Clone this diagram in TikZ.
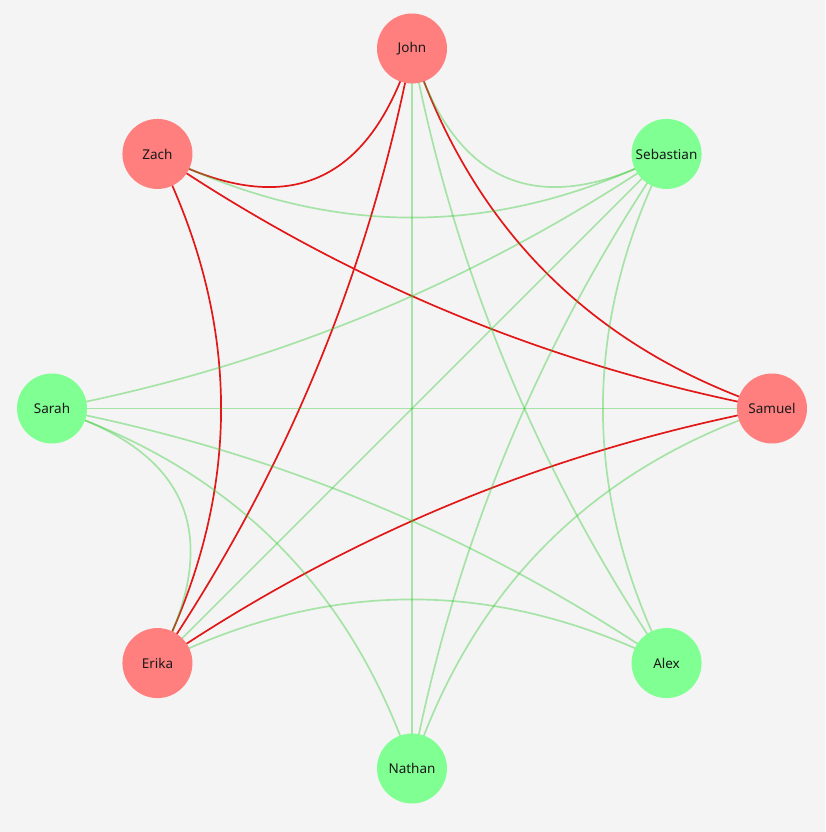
\documentclass[tikz,border=0pt]{standalone}
\usepackage{fontspec}
\setmainfont{Noto Sans}
\usetikzlibrary{calc}
\pgfdeclarelayer{bglayer}
\pgfdeclarelayer{edgelayer}
\pgfsetlayers{bglayer,edgelayer,main}
\definecolor{pagebg}{HTML}{F4F4F4}
\definecolor{rednode}{HTML}{FF7F7F}
\definecolor{greennode}{HTML}{80FF93}
\definecolor{rededge}{RGB}{226,24,24}
\definecolor{greenedge}{RGB}{40,200,40}
\tikzset{
  person/.style={circle, minimum size=70pt, inner sep=0pt, text=black!90,
    font=\fontsize{13.5}{16}\selectfont},
  redperson/.style={person, fill=rednode},
  greenperson/.style={person, fill=greennode},
  rlink/.style={draw=rededge, line width=1.7pt},
  glink/.style={draw=greenedge, draw opacity=0.38, line width=1.7pt},
}
\newcommand\qlink[3]{%
  \coordinate (qm) at ($(#2.center)!0.5!(#3.center)$);
  \coordinate (qc) at ($(qm)!0.5!(O)$);
  \draw[#1] (#2.center) .. controls ($(#2.center)!2/3!(qc)$) and ($(#3.center)!2/3!(qc)$) .. (#3.center);
}
\begin{document}
\begin{tikzpicture}[x=1pt,y=-1pt]
\begin{pgfonlayer}{bglayer}
  \fill[pagebg] (0,0) rectangle (825,832);
\end{pgfonlayer}
\useasboundingbox (0,0) rectangle (825,832);
\coordinate (O) at (412,408.5);
\node[redperson]   (John)      at ($(O)+(-90:360)$)  {John};
\node[greenperson] (Sebastian) at ($(O)+(-45:360)$)  {Sebastian};
\node[redperson]   (Samuel)    at ($(O)+(0:360)$)    {Samuel};
\node[greenperson] (Alex)      at ($(O)+(45:360)$)   {Alex};
\node[greenperson] (Nathan)    at ($(O)+(90:360)$)   {Nathan};
\node[redperson]   (Erika)     at ($(O)+(135:360)$)  {Erika};
\node[greenperson] (Sarah)     at ($(O)+(180:360)$)  {Sarah};
\node[redperson]   (Zach)      at ($(O)+(-135:360)$) {Zach};
\begin{pgfonlayer}{edgelayer}
  % red edges
  \qlink{rlink}{John}{Zach}
  \qlink{rlink}{John}{Samuel}
  \qlink{rlink}{John}{Erika}
  \qlink{rlink}{Zach}{Samuel}
  \qlink{rlink}{Zach}{Erika}
  \qlink{rlink}{Samuel}{Erika}
  % green edges
  \qlink{glink}{John}{Sebastian}
  \qlink{glink}{John}{Nathan}
  \qlink{glink}{John}{Alex}
  \qlink{glink}{Sebastian}{Zach}
  \qlink{glink}{Sebastian}{Sarah}
  \qlink{glink}{Sebastian}{Erika}
  \qlink{glink}{Sebastian}{Nathan}
  \qlink{glink}{Sebastian}{Alex}
  \qlink{glink}{Samuel}{Sarah}
  \qlink{glink}{Samuel}{Nathan}
  \qlink{glink}{Sarah}{Alex}
  \qlink{glink}{Sarah}{Nathan}
  \qlink{glink}{Sarah}{Erika}
  \qlink{glink}{Erika}{Alex}
\end{pgfonlayer}
\end{tikzpicture}
\end{document}
